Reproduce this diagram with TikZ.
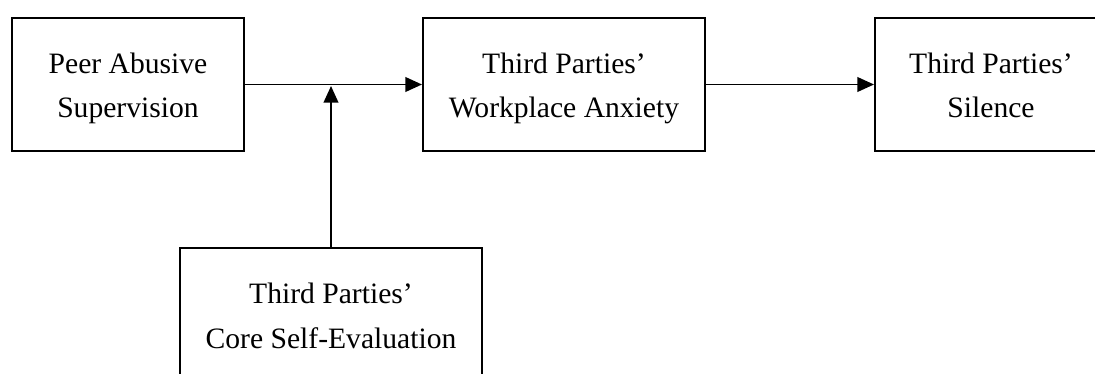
\documentclass[tikz,border=0pt]{standalone}
\usepackage{fontspec}
\setmainfont{Liberation Serif}
\usetikzlibrary{arrows.meta}
\tikzset{
  box/.style={draw, line width=1.5pt, inner sep=0pt, align=center,
    minimum height=99.75pt, text height=51pt, text depth=0.75pt,
    font=\fontsize{22.2pt}{33.2pt}\selectfont},
  arr/.style={line width=1.4pt, -{Triangle[length=12.5pt,width=11pt]}}
}
\begin{document}
\begin{tikzpicture}[x=0.75pt,y=-0.75pt]
\useasboundingbox (0,0) rectangle (1095,374);
\fill[white] (0,0) rectangle (1095,374);
\clip (0,0) rectangle (1095,374);
\node[box, minimum width=174pt] (b1) at (128,84.5) {Peer Abusive\\Supervision};
\node[box, minimum width=211.5pt] (b2) at (564,84.5) {Third Parties’\\Workplace Anxiety};
\node[box, minimum width=174pt] (b3) at (991,84.5) {Third Parties’\\Silence};
\node[box, minimum width=226.5pt] (b4) at (331,314.5) {Third Parties’\\Core Self-Evaluation};
\coordinate (m) at (331,86);
\draw[arr] (b1.east) -- (b2.west);
\draw[arr] (b2.east) -- (b3.west);
\draw[arr] (b4.north) -- (m);
\end{tikzpicture}
\end{document}
